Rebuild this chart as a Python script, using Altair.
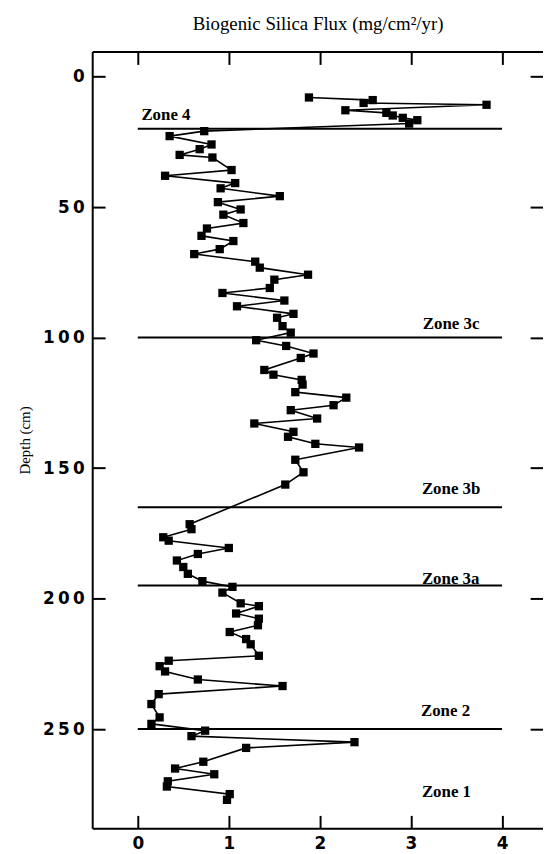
import altair as alt
import pandas as pd

# ---- data ----
depth = [8.0, 9.0, 10.1, 10.8, 12.9, 13.9, 14.9, 15.8, 16.7, 18.0,
         20.9, 22.8, 26.0, 27.8, 30.0, 31.0, 35.8, 38.0, 40.8, 42.8,
         45.8, 48.1, 50.9, 52.9, 56.1, 58.2, 61.0, 63.0, 66.1, 68.0,
         70.9, 73.2, 75.9, 77.8, 81.0, 82.9, 85.8, 88.0, 90.9, 92.4,
         95.6, 98.1, 101.0, 103.2, 106.1, 107.8, 112.4, 114.2, 116.2, 118.0,
         120.9, 123.0, 125.9, 127.8, 131.0, 132.9, 136.1, 138.0, 140.7, 142.1,
         146.8, 151.6, 156.3,
         171.5, 173.4, 176.5, 177.8, 180.6, 182.9, 185.4, 187.9, 190.5, 193.3,
         195.5, 197.7, 201.8, 202.9, 205.7, 207.7, 210.2, 212.8, 215.5, 217.5,
         221.9, 223.8, 225.9, 227.9, 231.0, 233.5, 236.6, 240.4, 245.5, 248.0,
         250.6, 252.7, 255.0, 257.2, 262.5, 265.1, 267.3, 270.0, 272.0, 274.9,
         277.1]
flux = [1.88, 2.58, 2.48, 3.83, 2.28, 2.73, 2.80, 2.91, 3.07, 2.98,
        0.73, 0.35, 0.81, 0.68, 0.46, 0.82, 1.03, 0.30, 1.07, 0.91,
        1.56, 0.88, 1.13, 0.94, 1.16, 0.76, 0.70, 1.05, 0.90, 0.62,
        1.29, 1.34, 1.87, 1.50, 1.45, 0.93, 1.61, 1.09, 1.71, 1.53,
        1.59, 1.68, 1.30, 1.63, 1.93, 1.79, 1.39, 1.49, 1.80, 1.81,
        1.73, 2.29, 2.15, 1.68, 1.97, 1.28, 1.71, 1.65, 1.95, 2.43,
        1.73, 1.82, 1.62,
        0.57, 0.59, 0.28, 0.34, 1.00, 0.66, 0.43, 0.50, 0.55, 0.71,
        1.04, 0.93, 1.13, 1.33, 1.08, 1.33, 1.32, 1.01, 1.19, 1.24,
        1.33, 0.34, 0.24, 0.30, 0.66, 1.59, 0.23, 0.15, 0.24, 0.15,
        0.74, 0.59, 2.38, 1.19, 0.72, 0.41, 0.84, 0.33, 0.32, 1.01,
        0.98]

zone_depth = [20, 100, 165, 195, 250]
zone_start = [0, 0, 0, 0, 0]
zone_end = [4, 4, 4, 4, 4]

zone_label = ["Zone 4", "Zone 3c", "Zone 3b", "Zone 3a", "Zone 2", "Zone 1"]
zone_label_x = [0.04, 3.13, 3.12, 3.12, 3.11, 3.12]
zone_label_depth = [16.6, 96.6, 159.8, 194.3, 244.9, 275.9]

x_ticks = [0, 1, 2, 3, 4]
y_ticks = [0, 50, 100, 150, 200, 250]

df = pd.DataFrame({"depth": depth, "flux": flux})
zdf = pd.DataFrame({"depth": zone_depth, "x0": zone_start, "x1": zone_end})
ldf = pd.DataFrame({"label": zone_label, "x": zone_label_x, "depth": zone_label_depth})

xscale = alt.Scale(domain=[-0.5, 4.45], nice=False, zero=False)
yscale = alt.Scale(domain=[-9.6, 288], reverse=True, nice=False, zero=False)

tick_in = {"expr": "-13"}
num_font = "DejaVu Sans"

bottom_axis = alt.Axis(orient="bottom", values=x_ticks, title=None, grid=False,
                       domain=True, domainColor="black", domainWidth=2,
                       ticks=True, tickSize=tick_in, tickColor="black", tickWidth=2,
                       labelFont=num_font, labelFontWeight="bold", labelFontSize=17,
                       labelColor="black", labelPadding=20, labelFlush=False)
left_axis = alt.Axis(orient="left", values=y_ticks, grid=False,
                     domain=True, domainColor="black", domainWidth=2,
                     ticks=True, tickSize=tick_in, tickColor="black", tickWidth=2,
                     labelFont=num_font, labelFontWeight="bold", labelFontSize=17,
                     labelColor="black", labelPadding=21, labelFlush=False,
                     labelExpr="join(split(datum.label, ''), '\u2009')",
                     title="Depth (cm)", titleFont="Liberation Serif", titleFontSize=15,
                     titleFontWeight="normal", titleColor="black", titlePadding=10)
top_axis = alt.Axis(orient="top", values=x_ticks, grid=False, labels=False,
                    domain=True, domainColor="black", domainWidth=2,
                    ticks=True, tickSize=tick_in, tickColor="black", tickWidth=2,
                    title="Biogenic Silica Flux (mg/cm\u00b2/yr)",
                    titleFont="Liberation Serif", titleFontSize=19,
                    titleFontWeight="normal", titleColor="black", titlePadding=17)
right_axis = alt.Axis(orient="right", values=y_ticks, grid=False, labels=False,
                      domain=False, ticks=True, tickSize=tick_in,
                      tickColor="black", tickWidth=2, title=None)

line = alt.Chart(df).mark_line(color="black", strokeWidth=1.6).encode(
    x=alt.X("flux:Q", scale=xscale, axis=bottom_axis),
    y=alt.Y("depth:Q", scale=yscale, axis=left_axis),
    order=alt.Order("depth:Q"),
)
points = alt.Chart(df).mark_point(shape="square", filled=True, size=70,
                                  color="black", opacity=1).encode(
    x=alt.X("flux:Q", scale=xscale, axis=None),
    y=alt.Y("depth:Q", scale=yscale, axis=None),
)
rules = alt.Chart(zdf).mark_rule(color="black", strokeWidth=2).encode(
    x=alt.X("x0:Q", scale=xscale, axis=top_axis),
    x2="x1:Q",
    y=alt.Y("depth:Q", scale=yscale, axis=right_axis),
)
texts = alt.Chart(ldf).mark_text(align="left", baseline="alphabetic",
                                 font="Liberation Serif", fontSize=17,
                                 fontWeight="bold", color="black").encode(
    x=alt.X("x:Q", scale=xscale, axis=None),
    y=alt.Y("depth:Q", scale=yscale, axis=None),
    text="label:N",
)

chart = alt.layer(line, points, rules, texts).resolve_axis(
    x="independent", y="independent"
).properties(
    width=455, height=784,
    padding={"left": 85, "top": 40, "right": 0, "bottom": 22},
    autosize=alt.AutoSizeParams(type="none"),
    background="white",
).configure_view(stroke=None)

chart.save("out.html", embed_options={"renderer": "svg", "actions": False})
